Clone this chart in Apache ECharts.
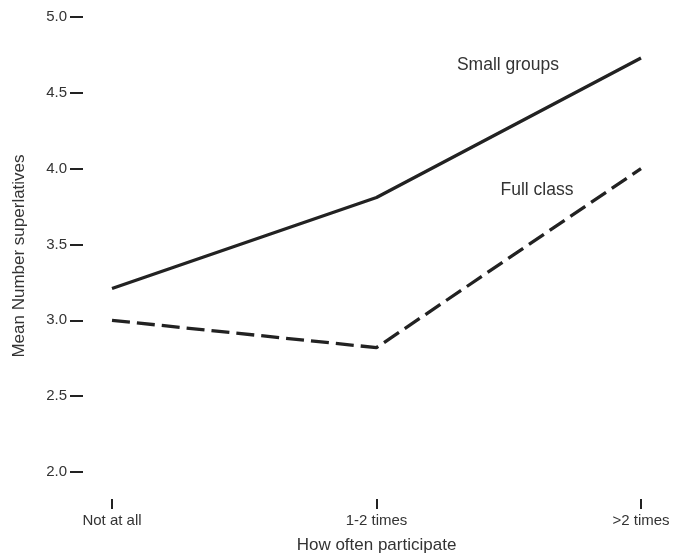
<!DOCTYPE html>
<html>
<head>
<meta charset="utf-8">
<script src="https://cdn.jsdelivr.net/npm/echarts@6/dist/echarts.min.js"></script>
<style>
html,body{margin:0;padding:0;background:#fff;}
#chart{width:674px;height:554px;}
</style>
</head>
<body>
<div id="chart"></div>
<script>
const categories = ['Not at all', '1-2 times', '>2 times'];
const smallGroups = [3.21, 3.81, 4.73];
const fullClass = [3.0, 2.82, 4.0];
const seriesNames = ['Small groups', 'Full class'];
const yAxisTitle = 'Mean Number superlatives';
const xAxisTitle = 'How often participate';

const FONT = '"Liberation Sans", Arial, sans-serif';
const TXT = '#333';
const chart = echarts.init(document.getElementById('chart'), null, {renderer: 'canvas'});
chart.setOption({
  animation: false,
  backgroundColor: '#fff',
  grid: {left: 112, right: 33, top: 17, bottom: 82, containLabel: false, outerBoundsMode: 'none'},
  xAxis: {
    type: 'category',
    data: categories,
    boundaryGap: false,
    offset: 27,
    name: xAxisTitle,
    nameLocation: 'middle',
    nameGap: 38,
    nameTextStyle: {fontFamily: FONT, fontSize: 17, color: TXT},
    axisLine: {show: false},
    axisTick: {show: true, length: 10, lineStyle: {color: '#222', width: 2}},
    axisLabel: {fontFamily: FONT, fontSize: 15, color: TXT, margin: 14},
    splitLine: {show: false}
  },
  yAxis: {
    type: 'value',
    min: 2, max: 5, interval: 0.5,
    offset: 29,
    axisLine: {show: false},
    axisTick: {show: true, length: 13, lineStyle: {color: '#222', width: 2}},
    axisLabel: {fontFamily: FONT, fontSize: 15, color: TXT, margin: 16,
      formatter: v => v.toFixed(1)},
    splitLine: {show: false}
  },
  graphic: [
    {type: 'text', x: 19, y: 256, rotation: Math.PI/2,
      style: {text: yAxisTitle, fontFamily: FONT, fontSize: 17, fill: TXT, align: 'center', verticalAlign: 'middle'}},
    {type: 'text', x: 508, y: 65,
      style: {text: seriesNames[0], fontFamily: FONT, fontSize: 17.5, fill: TXT, align: 'center', verticalAlign: 'middle'}},
    {type: 'text', x: 537, y: 190,
      style: {text: seriesNames[1], fontFamily: FONT, fontSize: 17.5, fill: TXT, align: 'center', verticalAlign: 'middle'}}
  ],
  series: [
    {name: seriesNames[0], type: 'line', data: smallGroups, symbol: 'none',
      lineStyle: {color: '#222', width: 3.3}},
    {name: seriesNames[1], type: 'line', data: fullClass, symbol: 'none',
      lineStyle: {color: '#222', width: 3.3, type: [18, 7]}}
  ]
});
</script>
</body>
</html>
